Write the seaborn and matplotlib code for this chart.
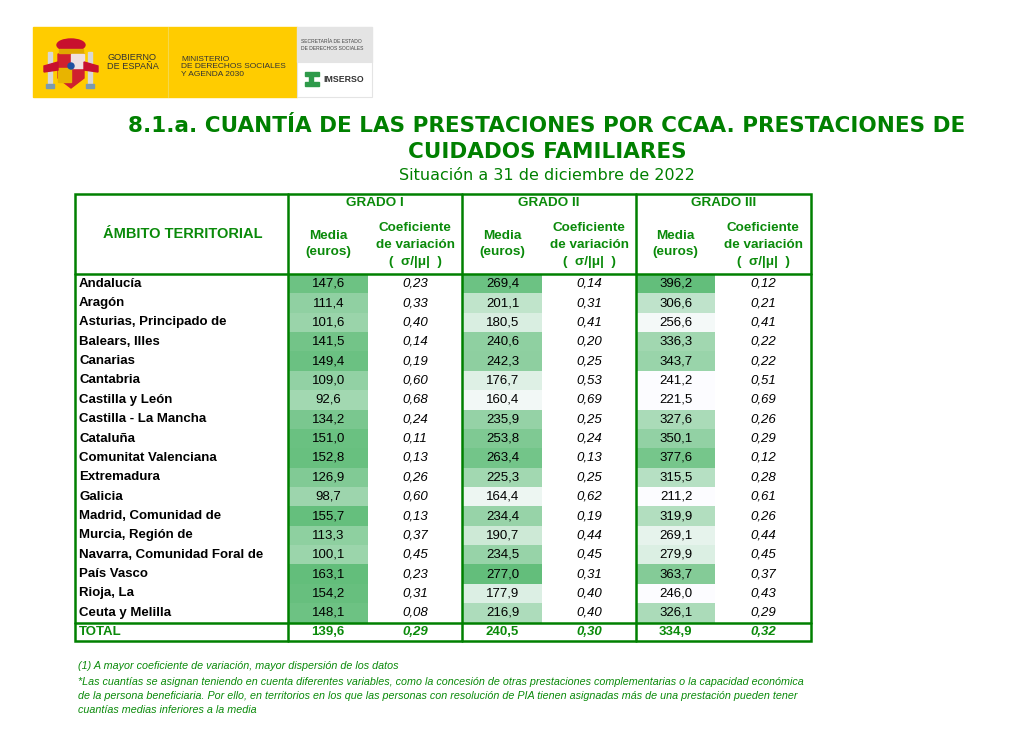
import numpy as np
import pandas as pd
import matplotlib
matplotlib.use("Agg")
import matplotlib.pyplot as plt
import seaborn as sns
from matplotlib.colors import LinearSegmentedColormap
from matplotlib.patches import Rectangle, Polygon, Ellipse

sns.set_theme(style="white")
plt.rcParams['font.family'] = ['Liberation Sans', 'DejaVu Sans']

# Table data
regions = ["Andalucía", "Aragón", "Asturias, Principado de", "Balears, Illes",
           "Canarias", "Cantabria", "Castilla y León", "Castilla - La Mancha",
           "Cataluña", "Comunitat Valenciana", "Extremadura", "Galicia",
           "Madrid, Comunidad de", "Murcia, Región de", "Navarra, Comunidad Foral de",
           "País Vasco", "Rioja, La", "Ceuta y Melilla"]
media_g1 = [147.6, 111.4, 101.6, 141.5, 149.4, 109.0, 92.6, 134.2, 151.0,
            152.8, 126.9, 98.7, 155.7, 113.3, 100.1, 163.1, 154.2, 148.1]
cv_g1 = [0.23, 0.33, 0.40, 0.14, 0.19, 0.60, 0.68, 0.24, 0.11,
         0.13, 0.26, 0.60, 0.13, 0.37, 0.45, 0.23, 0.31, 0.08]
media_g2 = [269.4, 201.1, 180.5, 240.6, 242.3, 176.7, 160.4, 235.9, 253.8,
            263.4, 225.3, 164.4, 234.4, 190.7, 234.5, 277.0, 177.9, 216.9]
cv_g2 = [0.14, 0.31, 0.41, 0.20, 0.25, 0.53, 0.69, 0.25, 0.24,
         0.13, 0.25, 0.62, 0.19, 0.44, 0.45, 0.31, 0.40, 0.40]
media_g3 = [396.2, 306.6, 256.6, 336.3, 343.7, 241.2, 221.5, 327.6, 350.1,
            377.6, 315.5, 211.2, 319.9, 269.1, 279.9, 363.7, 246.0, 326.1]
cv_g3 = [0.12, 0.21, 0.41, 0.22, 0.22, 0.51, 0.69, 0.26, 0.29,
         0.12, 0.28, 0.61, 0.26, 0.44, 0.45, 0.37, 0.43, 0.29]
total_media = [139.6, 240.5, 334.9]
total_cv = [0.29, 0.30, 0.32]

W, H = 1013, 749
GREEN = "#008000"
TXT_GREEN = "#0a8a0a"
cmap = LinearSegmentedColormap.from_list("xl", ["#FCFCFF", "#63BE7B"])

fig = plt.figure(figsize=(W / 100, H / 100), dpi=100)
fig.patch.set_facecolor("white")

# column edges (pixels)
x_lab, x_m1, x_c1, x_m2, x_c2, x_m3, x_c3, x_end = 75, 288, 368, 462, 542, 636, 715, 811
y_top, y_head, y_tot, y_bot = 194, 274, 622.5, 641
n = len(regions)
rh = (y_tot - y_head) / n

def fmt(v, d):
    return f"{v:.{d}f}".replace(".", ",")

# colour scale limits per media column, tuned to the reference shading
scales = [(media_g1, 0, 158, x_m1, x_c1),
          (media_g2, 152, 277, x_m2, x_c2),
          (media_g3, 248, 396, x_m3, x_c3)]
for vals, vmin, vmax, xa, xb in scales:
    hax = fig.add_axes([(xa + 1) / W, 1 - y_tot / H, (xb - xa - 1) / W, (y_tot - y_head) / H])
    df = pd.DataFrame({"m": vals}, index=regions)
    labels = np.array([[fmt(v, 1)] for v in vals])
    sns.heatmap(df, vmin=vmin, vmax=vmax, cmap=cmap, annot=labels, fmt="",
                cbar=False, xticklabels=False, yticklabels=False, ax=hax,
                annot_kws={"fontsize": 9.5, "color": "black"})
    hax.set_xlabel("")
    hax.set_ylabel("")

ax = fig.add_axes([0, 0, 1, 1])
ax.set_xlim(0, W)
ax.set_ylim(H, 0)
ax.axis("off")
ax.patch.set_alpha(0)

# --- logo block ---
ax.add_patch(Rectangle((33, 27), 264, 70, color="#FFCC00", zorder=1))
ax.plot([168, 168], [27, 97], color="#F5D84A", lw=0.8, zorder=2)
ax.add_patch(Rectangle((297, 27), 75, 35, color="#E4E4E4", zorder=1))
ax.add_patch(Rectangle((297, 62), 75, 35, facecolor="white", edgecolor="#E4E4E4", lw=0.8, zorder=1))
# coat of arms (simplified)
ax.add_patch(Rectangle((48, 52), 4, 32, color="#D8D8D8", zorder=2))
ax.add_patch(Rectangle((88, 52), 4, 32, color="#D8D8D8", zorder=2))
ax.add_patch(Rectangle((46, 84), 8, 4, color="#7A9AB0", zorder=2))
ax.add_patch(Rectangle((86, 84), 8, 4, color="#7A9AB0", zorder=2))
ax.add_patch(Ellipse((71, 45), 28, 12, color="#C8102E", zorder=2))
ax.add_patch(Rectangle((59, 49), 24, 4, color="#E0A800", zorder=3))
ax.add_patch(Polygon([(58, 54), (84, 54), (84, 78), (71, 88), (58, 78)], closed=True,
                     color="#D0202E", zorder=2))
ax.add_patch(Rectangle((71, 54), 13, 14, color="#F0E0E0", zorder=3))
ax.add_patch(Rectangle((58, 68), 13, 14, color="#E8B400", zorder=3))
ax.add_patch(Ellipse((71, 66), 6, 6, color="#2050A0", zorder=4))
ax.add_patch(Polygon([(44, 66), (58, 62), (58, 70), (44, 72)], closed=True, color="#C8102E", zorder=3))
ax.add_patch(Polygon([(98, 66), (84, 62), (84, 70), (98, 72)], closed=True, color="#C8102E", zorder=3))
ax.text(107, 62, "GOBIERNO\nDE ESPAÑA", fontsize=6.6, color="#333333", va="center",
        linespacing=1.05, zorder=4)
ax.text(181, 67, "MINISTERIO\nDE DERECHOS SOCIALES\nY AGENDA 2030", fontsize=6.0,
        color="#333333", va="center", linespacing=1.15, zorder=4)
ax.text(301, 45, "SECRETARÍA DE ESTADO\nDE DERECHOS SOCIALES", fontsize=3.6,
        color="#444444", va="center", linespacing=1.3, zorder=4)
ax.add_patch(Rectangle((305, 72), 14, 3.5, color="#2E9A4A", zorder=4))
ax.add_patch(Rectangle((309, 75), 4, 8, color="#2E9A4A", zorder=4))
ax.add_patch(Rectangle((305, 82), 14, 3.5, color="#2E9A4A", zorder=4))
ax.text(323, 79, "IMSERSO", fontsize=6.3, fontweight="bold", color="#333333",
        va="center", zorder=4)

# --- titles ---
ax.text(547, 126, "8.1.a. CUANTÍA DE LAS PRESTACIONES POR CCAA. PRESTACIONES DE",
        family="DejaVu Sans", fontsize=15.5, fontweight="bold", color=GREEN,
        ha="center", va="center")
ax.text(547, 152, "CUIDADOS FAMILIARES", family="DejaVu Sans", fontsize=15.5,
        fontweight="bold", color=GREEN, ha="center", va="center")
ax.text(547, 176, "Situación a 31 de diciembre de 2022", family="DejaVu Sans",
        fontsize=11.5, color=GREEN, ha="center", va="center")

# --- header ---
hs = dict(fontsize=9.7, fontweight="bold", color=TXT_GREEN, ha="center", va="center")
ax.text((x_lab + x_m1) / 2 + 1, 234, "ÁMBITO TERRITORIAL", fontsize=10.5,
        fontweight="bold", color=TXT_GREEN, ha="center", va="center")
for g, (xa, xb, xc) in zip(["GRADO I", "GRADO II", "GRADO III"],
                           [(x_m1, x_c1, x_m2), (x_m2, x_c2, x_m3), (x_m3, x_c3, x_end)]):
    ax.text((xa + xc) / 2, 203, g, **hs)
    ax.text((xa + xb) / 2, 236, "Media", **hs)
    ax.text((xa + xb) / 2, 252, "(euros)", **hs)
    ax.text((xb + xc) / 2, 228, "Coeficiente", **hs)
    ax.text((xb + xc) / 2, 245, "de variación", **hs)
    ax.text((xb + xc) / 2, 262, "(  σ/|μ|  )", **hs)

# --- body ---
for i, r in enumerate(regions):
    yc = y_head + (i + 0.5) * rh
    ax.text(x_lab + 4, yc, r, fontsize=9.5, fontweight="bold", color="black", va="center")
    for cv, xb, xc in [(cv_g1[i], x_c1, x_m2), (cv_g2[i], x_c2, x_m3), (cv_g3[i], x_c3, x_end)]:
        ax.text((xb + xc) / 2, yc, fmt(cv, 2), fontsize=9.5, style="italic",
                color="black", ha="center", va="center")

yt = (y_tot + y_bot) / 2
ax.text(x_lab + 4, yt, "TOTAL", fontsize=9.5, fontweight="bold", color=TXT_GREEN, va="center")
for k, (xa, xb, xc) in enumerate([(x_m1, x_c1, x_m2), (x_m2, x_c2, x_m3), (x_m3, x_c3, x_end)]):
    ax.text((xa + xb) / 2, yt, fmt(total_media[k], 1), fontsize=9.5, fontweight="bold",
            color=TXT_GREEN, ha="center", va="center")
    ax.text((xb + xc) / 2, yt, fmt(total_cv[k], 2), fontsize=9.5, fontweight="bold",
            style="italic", color=TXT_GREEN, ha="center", va="center")

# --- borders ---
ax.add_patch(Rectangle((x_lab, y_top), x_end - x_lab, y_bot - y_top, fill=False,
                       edgecolor=GREEN, lw=1.8, zorder=5))
for xv in [x_m1, x_m2, x_m3]:
    ax.plot([xv, xv], [y_top, y_bot], color=GREEN, lw=1.8, zorder=5)
for yv in [y_head, y_tot]:
    ax.plot([x_lab, x_end], [yv, yv], color=GREEN, lw=1.8, zorder=5)

# --- footnotes ---
fs = dict(fontsize=7.75, style="italic", color=TXT_GREEN, va="center")
ax.text(78, 666, "(1) A mayor coeficiente de variación, mayor dispersión de los datos", **fs)
ax.text(78, 682, "*Las cuantías se asignan teniendo en cuenta diferentes variables, como la concesión "
        "de otras prestaciones complementarias o la capacidad económica", **fs)
ax.text(78, 696, "de la persona beneficiaria. Por ello, en territorios en los que las personas con "
        "resolución de PIA tienen asignadas más de una prestación pueden tener", **fs)
ax.text(78, 710, "cuantías medias inferiores a la media", **fs)

fig.savefig("out.png", dpi=100)
